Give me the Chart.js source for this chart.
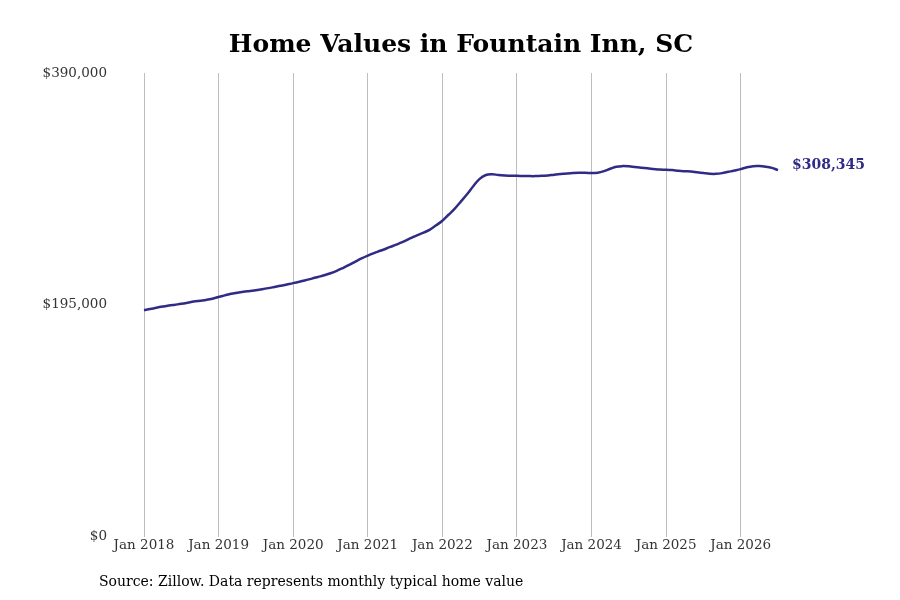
<!DOCTYPE html>
<html>
<head>
<meta charset="utf-8">
<script src="https://cdn.jsdelivr.net/npm/chart.js@4.4.1/dist/chart.umd.min.js"></script>
<style>
  html, body { margin: 0; padding: 0; background: #fff; }
  #wrap { position: relative; width: 900px; height: 600px; }
</style>
</head>
<body>
<div id="wrap"><canvas id="c" width="900" height="600"></canvas></div>
<script>
const TITLE = "Home Values in Fountain Inn, SC";
const SOURCE = "Source: Zillow. Data represents monthly typical home value";
const MONTHS = ["Jan","Feb","Mar","Apr","May","Jun","Jul","Aug","Sep","Oct","Nov","Dec"];
const YEARS = [2018, 2019, 2020, 2021, 2022, 2023, 2024, 2025, 2026];
const Y_TICKS = [0, 195000, 390000];

const values2018 = [190500, 191500, 192600, 193600, 194500, 195200, 195900, 196800, 197800, 198500, 199200, 200200];
const values2019 = [201700, 203000, 204300, 205200, 206000, 206700, 207400, 208200, 209100, 210100, 211100, 212200];
const values2020 = [213300, 214500, 215800, 217100, 218500, 219900, 221600, 223600, 226000, 228600, 231400, 234100];
const values2021 = [236500, 238600, 240500, 242400, 244500, 246600, 248800, 251300, 253700, 255800, 258300, 261900];
const values2022 = [265800, 270800, 276000, 282000, 288200, 295000, 301000, 304200, 304800, 304300, 303900, 303600];
const values2023 = [303500, 303400, 303300, 303300, 303500, 303900, 304500, 305000, 305500, 305900, 306100, 306100];
const values2024 = [305900, 306200, 307500, 309500, 311200, 311700, 311500, 310900, 310300, 309900, 309300, 308800];
const values2025 = [308700, 308400, 307800, 307400, 307100, 306500, 305900, 305300, 305200, 305800, 306900, 308000];
const values2026 = [309200, 310700, 311600, 311700, 311200, 310200, 308345];

const series = [values2018, values2019, values2020, values2021, values2022, values2023, values2024, values2025, values2026];
const values = [].concat(...series);
const labels = [];
series.forEach((arr, yi) => arr.forEach((_, mi) => labels.push(MONTHS[mi] + " " + YEARS[yi])));

const LINE_COLOR = "#2f2b87";
const SERIF = "'DejaVu Serif', serif";

const fmt = v => "$" + v.toLocaleString("en-US");

const decor = {
  id: "decor",
  afterDraw(chart) {
    const ctx = chart.ctx;
    const area = chart.chartArea;
    ctx.save();
    ctx.font = "bold 25px " + SERIF;
    ctx.fillStyle = "#000";
    ctx.textAlign = "center";
    ctx.textBaseline = "middle";
    ctx.fillText(TITLE, (area.left + area.right) / 2, 45);
    ctx.font = "14px " + SERIF;
    ctx.textAlign = "left";
    ctx.fillText(SOURCE, 99, 582);
    const meta = chart.getDatasetMeta(0);
    const last = meta.data[meta.data.length - 1];
    ctx.font = "bold 14px " + SERIF;
    ctx.fillStyle = LINE_COLOR;
    ctx.fillText(fmt(values[values.length - 1]), last.x + 14, last.y - 5);
    ctx.restore();
  }
};

new Chart(document.getElementById("c"), {
  type: "line",
  data: {
    labels: labels,
    datasets: [{
      data: values,
      borderColor: LINE_COLOR,
      borderWidth: 2.5,
      pointRadius: 0,
      tension: 0.4,
      fill: false
    }]
  },
  options: {
    responsive: false,
    animation: false,
    devicePixelRatio: 1,
    layout: { padding: { top: 73, right: 122, bottom: 45, left: 0 } },
    plugins: { legend: { display: false }, title: { display: false }, tooltip: { enabled: false } },
    scales: {
      x: {
        type: "category",
        offset: false,
        border: { display: false },
        grid: {
          drawTicks: false,
          lineWidth: 1,
          color: c => (labels[c.index] && labels[c.index].startsWith("Jan")) ? "#bdbdbd" : "rgba(0,0,0,0)"
        },
        ticks: {
          autoSkip: false,
          maxRotation: 0,
          padding: 1,
          color: "#333",
          font: { family: SERIF, size: 13.5 },
          callback: function(v, i) { const l = labels[i]; return l.startsWith("Jan") ? l : ""; }
        }
      },
      y: {
        min: 0,
        max: 390000,
        afterFit: s => { s.width = 144; },
        afterBuildTicks: s => { s.ticks = Y_TICKS.map(v => ({ value: v })); },
        border: { display: false },
        grid: { display: false, drawTicks: false },
        ticks: {
          padding: 37,
          color: "#333",
          font: { family: SERIF, size: 13.5 },
          callback: v => fmt(v)
        }
      }
    }
  },
  plugins: [decor]
});
</script>
</body>
</html>
